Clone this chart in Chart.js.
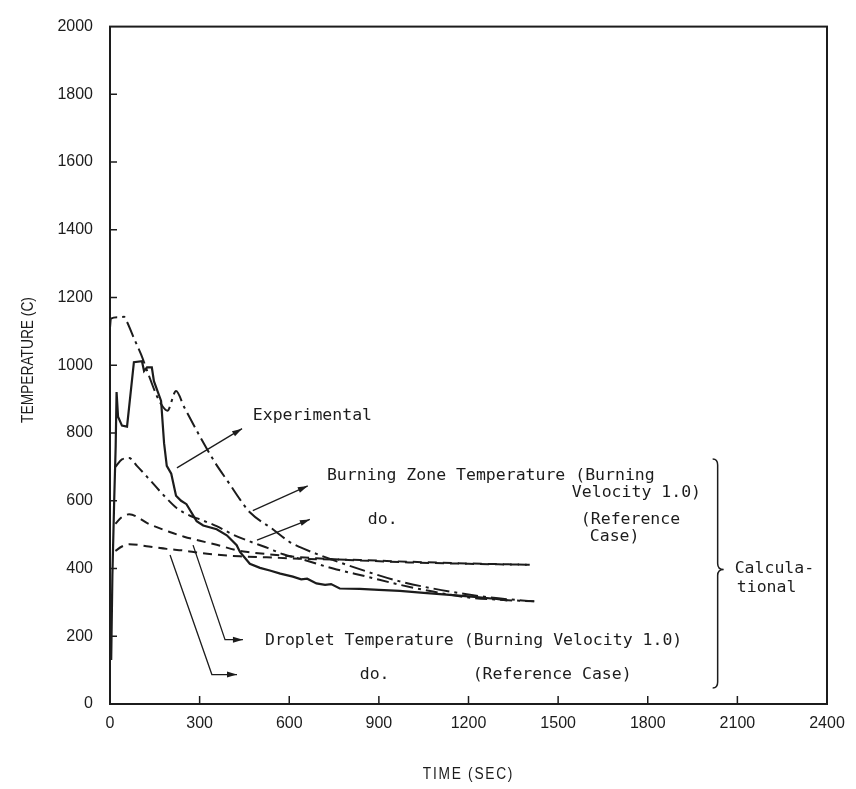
<!DOCTYPE html>
<html><head><meta charset="utf-8">
<script src="https://cdn.jsdelivr.net/npm/chart.js@4.4.1/dist/chart.umd.min.js"></script>
<style>html,body{margin:0;padding:0;background:#fff;}#wrap{width:856px;height:789px;position:relative;}</style>
</head><body><div id="wrap"><canvas id="c" width="856" height="789"></canvas></div>
<script>
// ---- data (time in s, temperature in C) ----
const xTicks = [0, 300, 600, 900, 1200, 1500, 1800, 2100, 2400];
const yTicks = [0, 200, 400, 600, 800, 1000, 1200, 1400, 1600, 1800, 2000];

const expTime = [4, 8, 14, 19, 22, 27, 40, 57, 80, 107, 114, 124, 140, 147, 171, 181, 190, 205, 221, 238, 256, 290, 312, 357, 391, 424, 435, 468, 502, 535, 570, 612, 640, 660, 691, 720, 740, 769, 836, 900, 970, 1050, 1137, 1220, 1294, 1330];
const expTemp = [130, 380, 600, 760, 921, 848, 822, 819, 1009, 1012, 983, 994, 994, 953, 895, 770, 703, 680, 615, 600, 590, 540, 527, 516, 498, 469, 449, 414, 402, 394, 385, 376, 368, 370, 356, 352, 354, 341, 340, 337, 334, 328, 322, 316, 310, 306];

const bzFastTime = [0, 3, 30, 47, 57, 80, 104, 130, 158, 175, 192, 221, 248, 301, 350, 400, 435, 468, 545, 602, 636, 747, 860, 970, 1081, 1194, 1300, 1420];
const bzFastTemp = [1110, 1138, 1142, 1143, 1128, 1080, 1032, 970, 907, 880, 866, 924, 877, 790, 715, 650, 604, 566, 516, 478, 463, 425, 391, 362, 341, 324, 312, 303];

const bzRefTime = [18, 40, 64, 90, 135, 181, 224, 270, 301, 357, 412, 468, 524, 580, 636, 747, 860, 970, 1081, 1194, 1300, 1420];
const bzRefTemp = [700, 722, 726, 703, 660, 615, 578, 555, 545, 525, 500, 480, 462, 442, 429, 400, 376, 352, 332, 315, 308, 303];

const dropFastTime = [18, 40, 64, 134, 200, 248, 301, 357, 435, 468, 580, 691, 837, 1000, 1200, 1405];
const dropFastTemp = [532, 552, 560, 530, 508, 494, 482, 470, 452, 448, 438, 430, 424, 418, 414, 411];

const dropRefTime = [18, 40, 64, 130, 190, 248, 301, 357, 435, 524, 636, 837, 1000, 1200, 1405];
const dropRefTemp = [452, 465, 472, 465, 458, 453, 446, 441, 436, 433, 429, 425, 420, 415, 411];

function pts(xs, ys) { return xs.map((x, i) => ({ x: x, y: ys[i] })); }

// ---- annotations (data coordinates) ----
const notes = {
  texts: [
    { t: 'Experimental', x: 478, y: 851 },
    { t: 'Burning Zone Temperature (Burning', x: 726, y: 673 },
    { t: 'Velocity 1.0)', x: 1546, y: 624 },
    { t: 'do.', x: 863, y: 545 },
    { t: '(Reference', x: 1576, y: 545 },
    { t: 'Case)', x: 1606, y: 493 },
    { t: 'Calcula-', x: 2091, y: 399 },
    { t: 'tional', x: 2098, y: 344 },
    { t: 'Droplet Temperature (Burning Velocity 1.0)', x: 519, y: 187 },
    { t: 'do.', x: 836, y: 87 },
    { t: '(Reference Case)', x: 1214, y: 87 }
  ],
  arrows: [
    [[224, 697], [442, 813]],
    [[478, 571], [662, 644]],
    [[492, 484], [669, 545]],
    [[278, 469], [385, 190], [445, 190]],
    [[201, 440], [341, 87], [425, 87]]
  ],
  brace: { x: 2034, top: 723, mid: 397, bottom: 47 }
};

const ink = '#1c1c1c';

const decor = {
  id: 'decor',
  afterDraw(chart) {
    const ctx = chart.ctx, a = chart.chartArea;
    const xs = chart.scales.x, ys = chart.scales.y;
    const X = v => xs.getPixelForValue(v), Y = v => ys.getPixelForValue(v);
    ctx.save();
    ctx.strokeStyle = ink; ctx.fillStyle = ink;
    // frame
    ctx.lineWidth = 2;
    ctx.strokeRect(a.left, a.top, a.right - a.left, a.bottom - a.top);
    // inward ticks
    ctx.lineWidth = 1.5;
    ctx.beginPath();
    yTicks.forEach(v => { if (v > 0 && v < 2000) { ctx.moveTo(a.left, Y(v)); ctx.lineTo(a.left + 7, Y(v)); } });
    xTicks.forEach(v => { if (v > 0 && v < 2400) { ctx.moveTo(X(v), a.bottom); ctx.lineTo(X(v), a.bottom - 8); } });
    ctx.stroke();
    // texts
    ctx.font = '16.5px "DejaVu Sans Mono", monospace';
    ctx.textAlign = 'left'; ctx.textBaseline = 'middle';
    notes.texts.forEach(n => ctx.fillText(n.t, X(n.x), Y(n.y)));
    // arrows
    ctx.lineWidth = 1.3;
    notes.arrows.forEach(p => {
      ctx.beginPath();
      ctx.moveTo(X(p[0][0]), Y(p[0][1]));
      for (let i = 1; i < p.length; i++) ctx.lineTo(X(p[i][0]), Y(p[i][1]));
      ctx.stroke();
      const n = p.length;
      const x1 = X(p[n - 1][0]), y1 = Y(p[n - 1][1]);
      const x0 = X(p[n - 2][0]), y0 = Y(p[n - 2][1]);
      const ang = Math.atan2(y1 - y0, x1 - x0);
      const L = 10, W = 3;
      ctx.beginPath();
      ctx.moveTo(x1, y1);
      ctx.lineTo(x1 - L * Math.cos(ang) + W * Math.sin(ang), y1 - L * Math.sin(ang) - W * Math.cos(ang));
      ctx.lineTo(x1 - L * Math.cos(ang) - W * Math.sin(ang), y1 - L * Math.sin(ang) + W * Math.cos(ang));
      ctx.closePath(); ctx.fill();
    });
    // brace
    const b = notes.brace;
    const bx = X(b.x), bt = Y(b.top), bm = Y(b.mid), bb = Y(b.bottom);
    ctx.lineWidth = 1.5;
    ctx.beginPath();
    ctx.moveTo(bx - 5, bt);
    ctx.quadraticCurveTo(bx, bt, bx, bt + 6);
    ctx.lineTo(bx, bm - 6);
    ctx.quadraticCurveTo(bx, bm, bx + 6, bm);
    ctx.quadraticCurveTo(bx, bm, bx, bm + 6);
    ctx.lineTo(bx, bb - 6);
    ctx.quadraticCurveTo(bx, bb, bx - 5, bb);
    ctx.stroke();
    // axis titles (tall, condensed lettering)
    ctx.font = '16px "Liberation Sans", Arial, sans-serif';
    ctx.textAlign = 'center'; ctx.textBaseline = 'middle';
    ctx.save();
    ctx.translate((a.left + a.right) / 2, 775); ctx.scale(0.86, 1);
    ctx.letterSpacing = '2px';
    ctx.fillText('TIME (SEC)', 0, 0);
    ctx.restore();
    ctx.save();
    ctx.translate(29, 360); ctx.rotate(-Math.PI / 2); ctx.scale(0.86, 1);
    ctx.fillText('TEMPERATURE (C)', 0, 0);
    ctx.restore();
    ctx.restore();
  }
};

const lineBase = { showLine: true, pointRadius: 0, borderColor: ink, fill: false, tension: 0 };
const plain = v => String(v);

new Chart(document.getElementById('c'), {
  type: 'scatter',
  data: {
    datasets: [
      Object.assign({}, lineBase, { label: 'Experimental', data: pts(expTime, expTemp), borderWidth: 2.2 }),
      Object.assign({}, lineBase, { label: 'Burning Zone Temperature (Burning Velocity 1.0)', data: pts(bzFastTime, bzFastTemp), borderWidth: 2, borderDash: [16, 5, 3, 5], cubicInterpolationMode: 'monotone' }),
      Object.assign({}, lineBase, { label: 'Burning Zone Temperature (Reference Case)', data: pts(bzRefTime, bzRefTemp), borderWidth: 2, borderDash: [12, 5, 3, 5], cubicInterpolationMode: 'monotone' }),
      Object.assign({}, lineBase, { label: 'Droplet Temperature (Burning Velocity 1.0)', data: pts(dropFastTime, dropFastTemp), borderWidth: 2, borderDash: [9, 6], cubicInterpolationMode: 'monotone' }),
      Object.assign({}, lineBase, { label: 'Droplet Temperature (Reference Case)', data: pts(dropRefTime, dropRefTemp), borderWidth: 2, borderDash: [9, 6], cubicInterpolationMode: 'monotone' })
    ]
  },
  options: {
    responsive: false, devicePixelRatio: 1, animation: false,
    layout: { padding: { left: 0, top: 18, right: 29, bottom: 0 } },
    plugins: { legend: { display: false }, tooltip: { enabled: false } },
    scales: {
      x: {
        type: 'linear', min: 0, max: 2400,
        afterFit: s => { s.height = 85; },
        afterBuildTicks: s => { s.ticks = xTicks.map(v => ({ value: v })); },
        grid: { display: false, drawTicks: false, tickLength: 0 },
        border: { display: false },
        ticks: { color: ink, padding: 10, maxRotation: 0, callback: plain, font: { family: '"Liberation Sans", Arial, sans-serif', size: 16 } }
      },
      y: {
        type: 'linear', min: 0, max: 2000,
        afterFit: s => { s.width = 110; },
        afterBuildTicks: s => { s.ticks = yTicks.map(v => ({ value: v })); },
        grid: { display: false, drawTicks: false, tickLength: 0 },
        border: { display: false },
        ticks: { color: ink, padding: 17, callback: plain, font: { family: '"Liberation Sans", Arial, sans-serif', size: 16 } }
      }
    }
  },
  plugins: [decor]
});
</script></body></html>
